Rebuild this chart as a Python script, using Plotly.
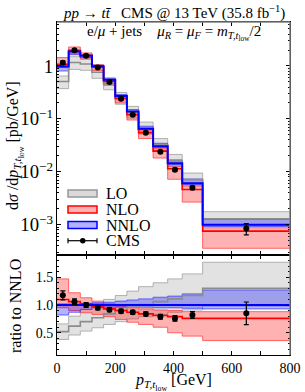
import plotly.graph_objects as go

# ---------------- data ----------------
bin_edges = [0, 40, 80, 120, 160, 200, 240, 280, 330, 380, 430, 500, 800]
bin_centers = [20, 60, 100, 140, 180, 220, 260, 305, 355, 405, 465, 650]

# NNLO central prediction [pb/GeV]
nnlo = [0.98, 1.87, 1.56, 0.99, 0.546, 0.27, 0.138, 0.0655, 0.0304, 0.0145, 0.0061, 0.001]
# theory predictions as ratio to NNLO central
nnlo_up_r = [1.02, 1.02, 1.03, 1.04, 1.05, 1.07, 1.09, 1.11, 1.14, 1.16, 1.20, 1.27]
nnlo_dn_r = [0.82, 0.87, 0.92, 0.95, 0.96, 0.96, 0.96, 0.96, 0.95, 0.95, 0.94, 0.93]
nlo_r = [1.10, 1.06, 1.02, 0.97, 0.93, 0.90, 0.87, 0.84, 0.81, 0.79, 0.76, 0.76]
nlo_up_r = [1.47, 1.22, 1.13, 1.07, 1.02, 0.98, 0.95, 0.93, 0.91, 0.90, 0.88, 0.88]
nlo_dn_r = [0.95, 0.90, 0.86, 0.83, 0.79, 0.74, 0.69, 0.65, 0.60, 0.50, 0.44, 0.36]
lo_r = [0.52, 0.62, 0.70, 0.77, 0.84, 0.90, 0.96, 1.01, 1.06, 1.11, 1.17, 1.30]
lo_up_r = [0.66, 0.80, 0.92, 1.02, 1.10, 1.17, 1.25, 1.33, 1.40, 1.47, 1.56, 1.77]
lo_dn_r = [0.38, 0.46, 0.53, 0.59, 0.65, 0.70, 0.75, 0.79, 0.83, 0.87, 0.91, 0.98]

# CMS data [pb/GeV] and relative uncertainty
cms = [1.15, 1.98, 1.56, 0.94, 0.50, 0.24, 0.12, 0.055, 0.024, 0.011, 0.005, 0.00085]
cms_rel_err = [0.07, 0.05, 0.045, 0.04, 0.04, 0.04, 0.04, 0.045, 0.055, 0.065, 0.075, 0.24]

x_ticks = [0, 200, 400, 600, 800]
ratio_ticks = [0.5, 1.0, 1.5]
legend_names = ["LO", "NLO", "NNLO", "CMS"]

FONT = "Liberation Serif, DejaVu Serif, serif"
W, H = 305, 392
ML, MR, MT, MB = 57, 15, 22, 37
NB = "\u00a0"

def step(vals):
    return list(vals) + [vals[-1]]

def absval(r):
    return [a * b for a, b in zip(r, nnlo)]

def px(xp):  # pixel x -> paper x
    return (xp - ML) / (W - ML - MR)

def py(yp):  # pixel y -> paper y
    return (H - MB - yp) / (H - MT - MB)

fig = go.Figure()

bands = [
    ("LO", lo_r, lo_up_r, lo_dn_r, "rgba(150,150,150,0.28)", "rgba(150,150,150,0.7)", "rgb(140,140,140)"),
    ("NLO", nlo_r, nlo_up_r, nlo_dn_r, "rgba(255,0,0,0.30)", "rgba(255,60,60,0.75)", "rgb(255,0,0)"),
    ("NNLO", [1.0] * len(nnlo), nnlo_up_r, nnlo_dn_r, "rgba(0,0,255,0.30)", "rgba(60,60,255,0.75)", "rgb(0,0,255)"),
]

for panel, (xa, ya) in enumerate([("x", "y"), ("x2", "y2")]):
    conv = absval if panel == 0 else (lambda r: list(r))
    for name, cen, up, dn, fillc, edgec, linec in bands:
        fig.add_trace(go.Scatter(x=bin_edges, y=step(conv(dn)), mode="lines", line_shape="hv",
                                 line=dict(color=edgec, width=1), showlegend=False,
                                 xaxis=xa, yaxis=ya, hoverinfo="skip"))
        fig.add_trace(go.Scatter(x=bin_edges, y=step(conv(up)), mode="lines", line_shape="hv",
                                 line=dict(color=edgec, width=1), fill="tonexty", fillcolor=fillc,
                                 name=name, showlegend=False,
                                 xaxis=xa, yaxis=ya, hoverinfo="skip"))
    for name, cen, up, dn, fillc, edgec, linec in bands:
        fig.add_trace(go.Scatter(x=bin_edges, y=step(conv(cen)), mode="lines", line_shape="hv",
                                 line=dict(color=linec, width=2 if name == "NNLO" else 1.6),
                                 showlegend=False, xaxis=xa, yaxis=ya, hoverinfo="skip"))
    if panel == 0:
        yv = cms
    else:
        yv = [c / n for c, n in zip(cms, nnlo)]
    err = [v * e for v, e in zip(yv, cms_rel_err)]
    fig.add_trace(go.Scatter(x=bin_centers, y=yv, mode="markers", name="CMS",
                             marker=dict(color="black", size=6),
                             error_y=dict(type="data", array=err, color="black", thickness=1.2, width=2.5),
                             showlegend=False, xaxis=xa, yaxis=ya))

axis_common = dict(showline=True, linecolor="black", linewidth=1, mirror="allticks",
                   ticks="inside", ticklen=4, tickcolor="black", showgrid=False, zeroline=False,
                   automargin=False)

fig.update_layout(
    template="none",
    width=W, height=H,
    margin=dict(l=ML, r=MR, t=MT, b=MB, pad=0),
    paper_bgcolor="white", plot_bgcolor="white",
    font=dict(family=FONT, size=15, color="black"),
    showlegend=False,
    xaxis=dict(domain=[0, 1], anchor="y", range=[0, 800], tickvals=x_ticks, showticklabels=False,
               minor=dict(ticks="inside", ticklen=4, dtick=100, tickcolor="black"), **axis_common),
    yaxis=dict(domain=[0.3003, 1], anchor="x", type="log", range=[-3.57, 0.83], dtick=1,
               exponentformat="power",
               tickfont=dict(family=FONT, size=15, color="black"),
               minor=dict(ticks="inside", ticklen=2, tickcolor="black"),
               **axis_common),
    xaxis2=dict(domain=[0, 1], anchor="y2", range=[0, 800], tickvals=x_ticks,
                tickfont=dict(family=FONT, size=14, color="black"),
                minor=dict(ticks="inside", ticklen=4, dtick=100, tickcolor="black"),
                **axis_common),
    yaxis2=dict(domain=[0, 0.3003], anchor="x2", range=[0.1, 1.9], tickvals=ratio_ticks,
                tickformat=".1f",
                tickfont=dict(family=FONT, size=14, color="black"),
                minor=dict(ticks="inside", ticklen=2, dtick=0.1, tickcolor="black"),
                **axis_common),
)

# axis titles
fig.add_annotation(text="d<i>σ</i>" + NB + "/d<i>p</i><sub><i>T,t</i><sub>low</sub></sub>" + NB + "[pb/GeV]",
                   xref="paper", yref="paper", x=px(15), y=py(146), textangle=-90,
                   xanchor="center", yanchor="middle", showarrow=False,
                   font=dict(family=FONT, size=16))
fig.add_annotation(text="ratio to NNLO", xref="paper", yref="paper", x=px(15), y=py(306),
                   textangle=-90, xanchor="center", yanchor="middle", showarrow=False,
                   font=dict(family=FONT, size=16))
fig.add_annotation(text="<i>p</i><sub><i>T,t</i><sub>low</sub></sub>" + NB + "[GeV]", xref="paper", yref="paper",
                   x=0.5, y=py(382), xanchor="center", yanchor="middle", showarrow=False,
                   borderpad=0, font=dict(family=FONT, size=16))

# grey top/right frame lines like the reference
for (x0, y0, x1, y1) in [(0, 1, 1, 1), (1, 0, 1, 1)]:
    fig.add_shape(type="line", xref="paper", yref="paper", x0=x0, y0=y0, x1=x1, y1=y1,
                  line=dict(color="#808080", width=1.5), layer="above")

# legend (drawn in the upper panel)
leg_styles = [
    ("rgba(150,150,150,0.35)", "rgb(150,150,150)"),
    ("rgba(255,0,0,0.30)", "rgb(255,0,0)"),
    ("rgba(0,0,255,0.30)", "rgb(0,0,255)"),
]
leg_y = [193.5, 209.5, 225.0, 240.7]
for i, (fc, lc) in enumerate(leg_styles):
    fig.add_shape(type="rect", xref="paper", yref="paper",
                  x0=px(68), x1=px(97), y0=py(leg_y[i] - 3.5), y1=py(leg_y[i] + 3.5),
                  fillcolor=fc, line=dict(color=lc, width=1.5))
yc = leg_y[3]
fig.add_shape(type="line", xref="paper", yref="paper", x0=px(68), x1=px(97), y0=py(yc), y1=py(yc),
              line=dict(color="black", width=1.2))
for xe in (68, 97):
    fig.add_shape(type="line", xref="paper", yref="paper", x0=px(xe), x1=px(xe),
                  y0=py(yc - 2.5), y1=py(yc + 2.5), line=dict(color="black", width=1.2))
fig.add_shape(type="circle", xref="paper", yref="paper", x0=px(80), x1=px(85.5),
              y0=py(yc - 2.75), y1=py(yc + 2.75), fillcolor="black", line=dict(color="black", width=0))
for i, nm in enumerate(legend_names):
    fig.add_annotation(text=nm, xref="paper", yref="paper", x=px(105), y=py(leg_y[i]),
                       xanchor="left", yanchor="middle", showarrow=False, borderpad=0,
                       font=dict(family=FONT, size=16))

fig.add_annotation(text="<i>pp</i>" + NB + "→" + NB + "<i>tt̄</i>" + NB * 3 + "CMS @ 13 TeV (35.8 fb<sup>−1</sup>)",
                   xref="paper", yref="paper", x=0.5, y=py(12), xanchor="center", yanchor="middle",
                   showarrow=False, font=dict(family=FONT, size=15))
fig.add_annotation(text="e/<i>μ</i> + jets" + NB * 4 + "<i>μ<sub>R</sub></i> = <i>μ<sub>F</sub></i> = <i>m</i><sub><i>T,t</i><sub>low</sub></sub>/2",
                   xref="paper", yref="paper", x=0.5, y=py(33), xanchor="center", yanchor="middle",
                   showarrow=False, font=dict(family=FONT, size=15))

fig.write_html("out.html", config={"displayModeBar": False},
               post_script="document.body.style.margin='0';")
